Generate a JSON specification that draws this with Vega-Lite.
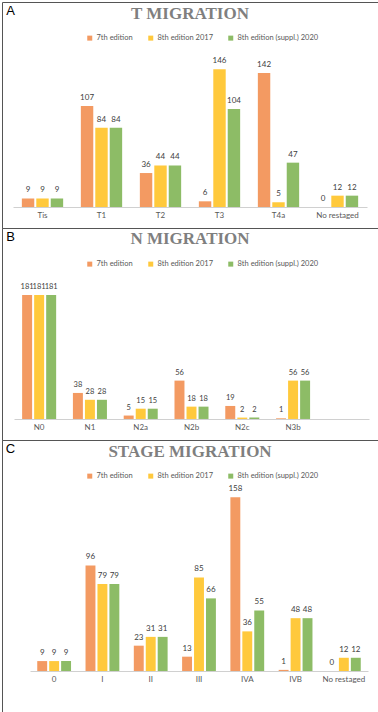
{
  "$schema": "https://vega.github.io/schema/vega-lite/v6.json",
  "padding": {"left": 1, "top": 1, "right": 1, "bottom": 0},
  "spacing": 0,
  "bounds": "flush",
  "background": "white",
  "datasets": {
    "t": [
      {"cat": "Tis", "edition": "7th edition", "value": 9},
      {"cat": "Tis", "edition": "8th edition 2017", "value": 9},
      {"cat": "Tis", "edition": "8th edition (suppl.) 2020", "value": 9},
      {"cat": "T1", "edition": "7th edition", "value": 107},
      {"cat": "T1", "edition": "8th edition 2017", "value": 84},
      {"cat": "T1", "edition": "8th edition (suppl.) 2020", "value": 84},
      {"cat": "T2", "edition": "7th edition", "value": 36},
      {"cat": "T2", "edition": "8th edition 2017", "value": 44},
      {"cat": "T2", "edition": "8th edition (suppl.) 2020", "value": 44},
      {"cat": "T3", "edition": "7th edition", "value": 6},
      {"cat": "T3", "edition": "8th edition 2017", "value": 146},
      {"cat": "T3", "edition": "8th edition (suppl.) 2020", "value": 104},
      {"cat": "T4a", "edition": "7th edition", "value": 142},
      {"cat": "T4a", "edition": "8th edition 2017", "value": 5},
      {"cat": "T4a", "edition": "8th edition (suppl.) 2020", "value": 47},
      {"cat": "No restaged", "edition": "7th edition", "value": 0},
      {"cat": "No restaged", "edition": "8th edition 2017", "value": 12},
      {"cat": "No restaged", "edition": "8th edition (suppl.) 2020", "value": 12}
    ],
    "n": [
      {"cat": "N0", "edition": "7th edition", "value": 181},
      {"cat": "N0", "edition": "8th edition 2017", "value": 181},
      {"cat": "N0", "edition": "8th edition (suppl.) 2020", "value": 181},
      {"cat": "N1", "edition": "7th edition", "value": 38},
      {"cat": "N1", "edition": "8th edition 2017", "value": 28},
      {"cat": "N1", "edition": "8th edition (suppl.) 2020", "value": 28},
      {"cat": "N2a", "edition": "7th edition", "value": 5},
      {"cat": "N2a", "edition": "8th edition 2017", "value": 15},
      {"cat": "N2a", "edition": "8th edition (suppl.) 2020", "value": 15},
      {"cat": "N2b", "edition": "7th edition", "value": 56},
      {"cat": "N2b", "edition": "8th edition 2017", "value": 18},
      {"cat": "N2b", "edition": "8th edition (suppl.) 2020", "value": 18},
      {"cat": "N2c", "edition": "7th edition", "value": 19},
      {"cat": "N2c", "edition": "8th edition 2017", "value": 2},
      {"cat": "N2c", "edition": "8th edition (suppl.) 2020", "value": 2},
      {"cat": "N3b", "edition": "7th edition", "value": 1},
      {"cat": "N3b", "edition": "8th edition 2017", "value": 56},
      {"cat": "N3b", "edition": "8th edition (suppl.) 2020", "value": 56}
    ],
    "s": [
      {"cat": "0", "edition": "7th edition", "value": 9},
      {"cat": "0", "edition": "8th edition 2017", "value": 9},
      {"cat": "0", "edition": "8th edition (suppl.) 2020", "value": 9},
      {"cat": "I", "edition": "7th edition", "value": 96},
      {"cat": "I", "edition": "8th edition 2017", "value": 79},
      {"cat": "I", "edition": "8th edition (suppl.) 2020", "value": 79},
      {"cat": "II", "edition": "7th edition", "value": 23},
      {"cat": "II", "edition": "8th edition 2017", "value": 31},
      {"cat": "II", "edition": "8th edition (suppl.) 2020", "value": 31},
      {"cat": "III", "edition": "7th edition", "value": 13},
      {"cat": "III", "edition": "8th edition 2017", "value": 85},
      {"cat": "III", "edition": "8th edition (suppl.) 2020", "value": 66},
      {"cat": "IVA", "edition": "7th edition", "value": 158},
      {"cat": "IVA", "edition": "8th edition 2017", "value": 36},
      {"cat": "IVA", "edition": "8th edition (suppl.) 2020", "value": 55},
      {"cat": "IVB", "edition": "7th edition", "value": 1},
      {"cat": "IVB", "edition": "8th edition 2017", "value": 48},
      {"cat": "IVB", "edition": "8th edition (suppl.) 2020", "value": 48},
      {"cat": "No restaged", "edition": "7th edition", "value": 0},
      {"cat": "No restaged", "edition": "8th edition 2017", "value": 12},
      {"cat": "No restaged", "edition": "8th edition (suppl.) 2020", "value": 12}
    ]
  },
  "vconcat": [
    {
      "width": 376,
      "height": 226,
      "data": {"name": "t"},
      "title": {"text": "T MIGRATION", "offset": -21},
      "encoding": {
        "x": {"field": "cat", "type": "nominal",
          "scale": {"domain": ["Tis", "T1", "T2", "T3", "T4a", "No restaged"], "range": [11, 365], "paddingInner": 0.3, "paddingOuter": 0.15},
          "axis": {"title": null, "offset": -21}},
        "xOffset": {"field": "edition", "type": "nominal",
          "scale": {"domain": ["7th edition", "8th edition 2017", "8th edition (suppl.) 2020"], "paddingInner": 0.14}},
        "y": {"field": "value", "type": "quantitative",
          "scale": {"domain": [-22.3, 217.4], "nice": false, "zero": false},
          "axis": {"title": "A"}},
        "color": {"field": "edition", "type": "nominal",
          "scale": {"domain": ["7th edition", "8th edition 2017", "8th edition (suppl.) 2020"], "range": ["#F39A62", "#FFC93C", "#8DBC66"]},
          "legend": {"legendX": 84, "legendY": 32}}
      },
      "layer": [
        {"mark": {"type": "bar"}, "encoding": {"y2": {"datum": 0}}},
        {"mark": {"type": "text", "baseline": "bottom", "dy": -4, "fontSize": 8, "font": "Lato", "color": "#404040"},
          "encoding": {"text": {"field": "value", "type": "quantitative"}, "color": {"value": "#404040"}}}
      ]
    },
    {
      "width": 376,
      "height": 212,
      "data": {"name": "n"},
      "title": {"text": "N MIGRATION", "offset": -20},
      "encoding": {
        "x": {"field": "cat", "type": "nominal",
          "scale": {"domain": ["N0", "N1", "N2a", "N2b", "N2c", "N3b", " "], "range": [12, 367], "paddingInner": 0.33, "paddingOuter": 0.16},
          "axis": {"title": null, "offset": -21}},
        "xOffset": {"field": "edition", "type": "nominal",
          "scale": {"domain": ["7th edition", "8th edition 2017", "8th edition (suppl.) 2020"], "paddingInner": 0.17}},
        "y": {"field": "value", "type": "quantitative",
          "scale": {"domain": [-30.7, 278.8], "nice": false, "zero": false},
          "axis": {"title": "B"}},
        "color": {"field": "edition", "type": "nominal",
          "scale": {"domain": ["7th edition", "8th edition 2017", "8th edition (suppl.) 2020"], "range": ["#F39A62", "#FFC93C", "#8DBC66"]},
          "legend": {"legendX": 84, "legendY": 32}}
      },
      "layer": [
        {"mark": {"type": "bar"}, "encoding": {"y2": {"datum": 0}}},
        {"mark": {"type": "text", "baseline": "bottom", "dy": -4, "fontSize": 7.5, "font": "Lato", "color": "#404040"},
          "encoding": {"text": {"field": "value", "type": "quantitative"}, "color": {"value": "#404040"}}}
      ]
    },
    {
      "width": 376,
      "height": 272,
      "data": {"name": "s"},
      "title": {"text": "STAGE MIGRATION", "offset": -21},
      "encoding": {
        "x": {"field": "cat", "type": "nominal",
          "scale": {"domain": ["0", "I", "II", "III", "IVA", "IVB", "No restaged"], "range": [28, 366], "paddingInner": 0.3, "paddingOuter": 0.15},
          "axis": {"title": null, "offset": -41}},
        "xOffset": {"field": "edition", "type": "nominal",
          "scale": {"domain": ["7th edition", "8th edition 2017", "8th edition (suppl.) 2020"], "paddingInner": 0.17}},
        "y": {"field": "value", "type": "quantitative",
          "scale": {"domain": [-37.3, 210], "nice": false, "zero": false},
          "axis": {"title": "C"}},
        "color": {"field": "edition", "type": "nominal",
          "scale": {"domain": ["7th edition", "8th edition 2017", "8th edition (suppl.) 2020"], "range": ["#F39A62", "#FFC93C", "#8DBC66"]},
          "legend": {"legendX": 84, "legendY": 32}}
      },
      "layer": [
        {"mark": {"type": "bar"}, "encoding": {"y2": {"datum": 0}}},
        {"mark": {"type": "text", "baseline": "bottom", "dy": -4, "fontSize": 8, "font": "Lato", "color": "#404040"},
          "encoding": {"text": {"field": "value", "type": "quantitative"}, "color": {"value": "#404040"}}}
      ]
    }
  ],
  "resolve": {"scale": {"color": "independent", "x": "independent", "y": "independent", "xOffset": "independent"}, "legend": {"color": "independent"}},
  "config": {
    "view": {"stroke": "#555", "strokeWidth": 1},
    "title": {"font": "Liberation Serif", "fontSize": 17, "fontWeight": "bold", "color": "#7F7F7F", "anchor": "middle", "frame": "group", "baseline": "alphabetic"},
    "axisX": {"labelAngle": 0, "labelFont": "Lato", "labelFontSize": 8, "labelColor": "#595959", "labelPadding": 4, "ticks": false, "domainColor": "#D0D0D0", "domainWidth": 1, "grid": false},
    "axisY": {"labels": false, "ticks": false, "domain": false, "grid": false, "titleAngle": 0, "titleX": 8, "titleY": 8, "titleAlign": "center", "titleBaseline": "middle", "titleFont": "Liberation Sans", "titleFontSize": 13, "titleFontWeight": "normal", "titleColor": "black"},
    "legend": {"orient": "none", "direction": "horizontal", "title": null, "symbolType": "square", "symbolSize": 25, "symbolStrokeWidth": 0, "labelFont": "Lato", "labelFontSize": 7.5, "labelColor": "#595959", "columnPadding": 14, "labelOffset": 3}
  }
}
